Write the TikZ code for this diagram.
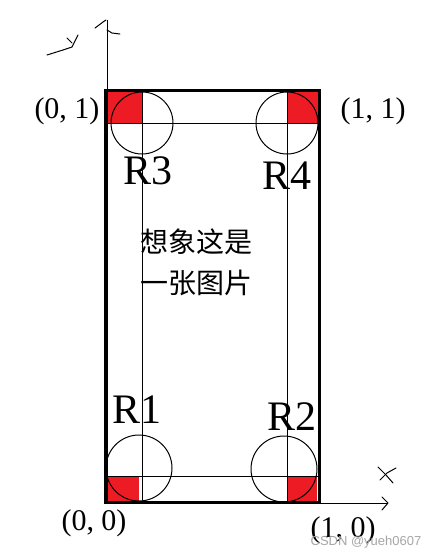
\documentclass[tikz,border=0pt]{standalone}
\usepackage{fontspec}
\setmainfont{Liberation Serif}
\newfontfamily\cjk{Noto Sans CJK SC}
\newfontfamily\wmark{Liberation Sans}
\usepackage{tikz}
\definecolor{paintred}{HTML}{ED1C24}

\begin{document}
\begin{tikzpicture}[x=1pt,y=-1pt,
    thin line/.style={line width=1pt},
    frame line/.style={line width=3pt},
    coordlabel/.style={inner sep=0pt,font=\fontsize{30}{30}\selectfont},
    rlabel/.style={inner sep=0pt,font=\fontsize{42}{42}\selectfont},
    hand/.style={line width=1pt,line cap=round,line join=round}]
    \useasboundingbox[fill=white] (0,0) rectangle (438,558);
    % red corners
    \fill[paintred] (107,91) rectangle (142,123);
    \fill[paintred] (287,91) rectangle (318,123);
    \fill[paintred] (106,476) rectangle (139,501);
    \fill[paintred] (287,477) rectangle (317,501);
    % frame
    \draw[frame line] (105,90) rectangle (319,502);
    % axes
    \draw[thin line] (107,20) -- (107,502);
    \draw[thin line] (319,503) -- (388,503);
    \draw[hand] (382,497) -- (388,503) -- (382,510);
    \draw[hand] (95,28) -- (103,22) -- (106,20);
    \draw[hand] (107,30) -- (112,33) -- (120,34);
    % hand written x and y
    \draw[hand] (47,55) -- (63,50) -- (72,47) -- (78,35);
    \draw[hand] (67,38) -- (72,43);
    \draw[hand] (378,467) -- (386,475) -- (393,483);
    \draw[hand] (396,468) -- (387,473) -- (380,480);
    % grid lines
    \draw[thin line] (107,123) -- (318,123);
    \draw[thin line] (107,476) -- (318,476);
    \draw[thin line] (142,90) -- (142,502);
    \draw[thin line] (287,90) -- (287,502);
    % circles
    \draw[thin line] (142,123) circle (31);
    \draw[thin line] (287,123) circle (31);
    \draw[thin line] (139,468) circle (33);
    \draw[thin line] (284,469) circle (33);
    % labels
    \node[coordlabel] (p01) at (67,111) {(0, 1)};
    \node[coordlabel] (p11) at (373,111) {(1, 1)};
    \node[coordlabel] (p00) at (94,523) {(0, 0)};
    \node[coordlabel] (p10) at (343,530) {(1, 0)};
    \node[rlabel] (r3) at (148,171) {R3};
    \node[rlabel] (r4) at (287,176) {R4};
    \node[rlabel] (r1) at (137,410) {R1};
    \node[rlabel] (r2) at (292,417) {R2};
    \node[inner sep=0pt,font=\cjk\fontsize{28}{28}\selectfont] (txt1) at (196,242) {想象这是};
    \node[inner sep=0pt,font=\cjk\fontsize{28}{28}\selectfont] (txt2) at (196,283) {一张图片};
    \node[inner sep=0pt,text=black!35,font=\wmark\fontsize{13}{13}\selectfont] (mark) at (366,542) {CSDN @yueh0607};
\end{tikzpicture}
\end{document}
